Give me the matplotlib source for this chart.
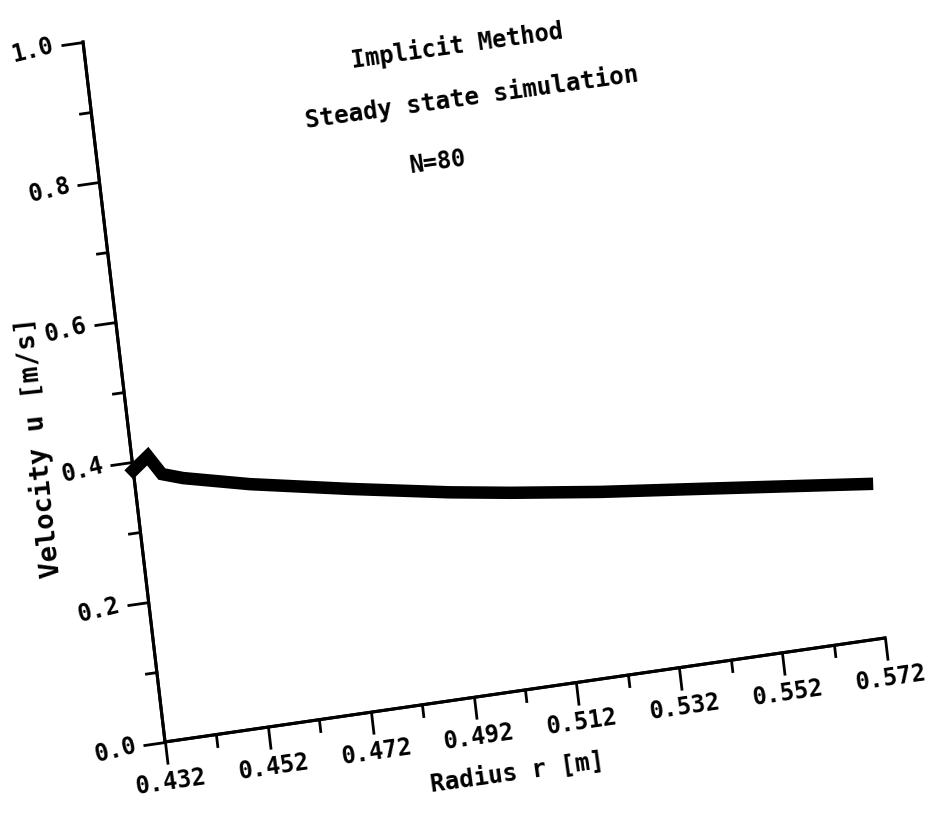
import numpy as np
import matplotlib
matplotlib.use("Agg")
import matplotlib.pyplot as plt
from matplotlib.transforms import Affine2D
import mpl_toolkits.axisartist.floating_axes as floating_axes
from mpl_toolkits.axisartist.grid_finder import FixedLocator

# data
radius = [0.432, 0.4351, 0.4374, 0.4414, 0.454, 0.473, 0.492, 0.5036, 0.5208, 0.540, 0.559, 0.572]
velocity = [0.388, 0.405, 0.377, 0.367, 0.345, 0.318, 0.293, 0.280, 0.263, 0.247, 0.231, 0.220]

r_major = [0.432, 0.452, 0.472, 0.492, 0.512, 0.532, 0.552, 0.572]
r_minor = [0.442, 0.462, 0.482, 0.502, 0.522, 0.542, 0.562]
u_major = [0.0, 0.2, 0.4, 0.6, 0.8, 1.0]
u_minor = [0.1, 0.3, 0.5, 0.7, 0.9]

plt.rcParams['font.family'] = ['DejaVu Sans Mono', 'DejaVu Sans']
plt.rcParams['font.weight'] = 'bold'

r0, r1 = r_major[0], r_major[-1]
# the scan is skewed: map (r, u) onto pixel units
sx, sy = 720 / (r1 - r0), 104 / (r1 - r0)
tr = Affine2D(np.array([[sx, -82.0, -sx * r0],
                        [sy, 700.0, -sy * r0],
                        [0.0, 0.0, 1.0]]))


def fmt_r(direction, factor, values):
    return ["%.3f" % v for v in values]


def fmt_u(direction, factor, values):
    return ["%.1f" % v for v in values]


def no_labels(direction, factor, values):
    return ["" for v in values]


fig = plt.figure(figsize=(9.37, 8.13), dpi=100)
rect = [75 / 937, 63 / 813, 818 / 937, 820 / 813]

gh = floating_axes.GridHelperCurveLinear(
    tr, extremes=(r0, r1, 0.0, 1.0),
    grid_locator1=FixedLocator(r_major), grid_locator2=FixedLocator(u_major),
    tick_formatter1=fmt_r, tick_formatter2=fmt_u)
ax = fig.add_axes(rect, axes_class=floating_axes.FloatingAxes, grid_helper=gh)

gh2 = floating_axes.GridHelperCurveLinear(
    tr, extremes=(r0, r1, 0.0, 1.0),
    grid_locator1=FixedLocator(r_minor), grid_locator2=FixedLocator(u_minor),
    tick_formatter1=no_labels, tick_formatter2=no_labels)
ax2 = fig.add_axes(rect, axes_class=floating_axes.FloatingAxes, grid_helper=gh2)
ax2.patch.set_visible(False)

for a, size in [(ax, 16), (ax2, 9)]:
    a.axis["top"].set_visible(False)
    a.axis["right"].set_visible(False)
    for side in ["bottom", "left"]:
        a.axis[side].line.set_linewidth(2.2)
        a.axis[side].major_ticks.set_tick_out(True)
        a.axis[side].major_ticks.set_ticksize(size)
        a.axis[side].major_ticks.set_markeredgewidth(2.0)
        a.axis[side].major_ticklabels.set_fontsize(17)
        a.axis[side].major_ticklabels.set_fontweight('bold')
        a.axis[side].major_ticklabels.set_pad(5)
    a.axis["left"].major_ticklabels.set_rotation(97)

aux = ax.get_aux_axes(tr)
aux.plot(radius, velocity, color='black', lw=9, solid_joinstyle='miter')

aux.text(0.5034, 0.9185, "Implicit Method", fontsize=17, rotation=8, ha='center', va='center')
aux.text(0.5051, 0.8438, "Steady state simulation", fontsize=17.5, rotation=8, ha='center', va='center')
aux.text(0.4972, 0.7594, "N=80", fontsize=17, rotation=8, ha='center', va='center')
aux.text(0.4986, -0.115, "Radius r [m]", fontsize=17.5, rotation=8, ha='center', va='center')
aux.text(0.4143, 0.44, "Velocity u [m/s]", fontsize=19.5, rotation=96, ha='center', va='center')

fig.savefig("out.png", dpi=100)
